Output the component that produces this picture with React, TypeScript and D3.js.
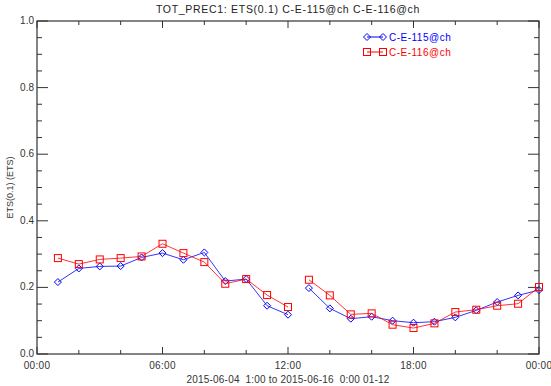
import * as d3 from "d3";

// lead hours of the two 12-hour runs
const hours = [1, 2, 3, 4, 5, 6, 7, 8, 9, 10, 11, 12, 13, 14, 15, 16, 17, 18, 19, 20, 21, 22, 23, 24];
const runOf = [0, 0, 0, 0, 0, 0, 0, 0, 0, 0, 0, 0, 1, 1, 1, 1, 1, 1, 1, 1, 1, 1, 1, 1];

const ce115 = [
  0.216, 0.257, 0.263, 0.264, 0.29, 0.303, 0.283, 0.305, 0.219, 0.225, 0.145, 0.118,
  0.198, 0.137, 0.106, 0.112, 0.1, 0.094, 0.097, 0.11, 0.131, 0.156, 0.176, 0.192,
];
const ce116 = [
  0.288, 0.27, 0.284, 0.288, 0.293, 0.331, 0.303, 0.276, 0.211, 0.225, 0.177, 0.141,
  0.223, 0.176, 0.119, 0.122, 0.088, 0.078, 0.092, 0.126, 0.133, 0.145, 0.151, 0.201,
];

const xTickLabels = ["00:00", "06:00", "12:00", "18:00", "00:00"];
const yTicks = [0, 0.2, 0.4, 0.6, 0.8, 1.0];

const W = 551;
const H = 386;
const margin = { top: 21, right: 12, bottom: 32, left: 37 };
const FONT = "'Liberation Sans', Arial, sans-serif";
const AXIS = "#333";

export default function App() {
  const iw = W - margin.left - margin.right;
  const ih = H - margin.top - margin.bottom;

  const x = d3.scaleLinear().domain([0, 24]).range([0, iw]);
  const y = d3.scaleLinear().domain([0, 1]).range([ih, 0]);

  const majorX = d3.range(0, 25, 6);
  const minorX = d3.range(0, 25, 2).filter((h) => h % 6 !== 0);
  const minorY = d3.range(0, 1.0001, 0.05).filter((v) => Math.round(v * 100) % 20 !== 0);

  const xMaj = 7;
  const xMin = 4;
  const yMaj = 11;
  const yMin = 5;

  const series = [
    { name: "C-E-115@ch", values: ce115, color: "#0000ff", marker: "diamond" },
    { name: "C-E-116@ch", values: ce116, color: "#ff0000", marker: "square" },
  ];

  // the two runs are drawn as separate pieces
  const runs = [0, 1].map((r) => hours.map((_, i) => i).filter((i) => runOf[i] === r));

  const drawMarker = (kind: string, cx: number, cy: number, color: string, key: string) =>
    kind === "diamond" ? (
      <path
        key={key}
        d={`M${cx},${cy - 3.5}L${cx + 3.5},${cy}L${cx},${cy + 3.5}L${cx - 3.5},${cy}Z`}
        fill="none"
        stroke={color}
        strokeWidth={1}
      />
    ) : (
      <rect key={key} x={cx - 3.5} y={cy - 3.5} width={7} height={7} fill="none" stroke={color} strokeWidth={1} />
    );

  return (
    <svg width={W} height={H} style={{ position: "absolute", left: 0, top: 0, background: "#fff" }} fontFamily={FONT}>
      <text x={margin.left + iw / 2} y={13} textAnchor="middle" fontSize={10.5} fill="#222" letterSpacing={0.7}>
        TOT_PREC1: ETS(0.1) C-E-115@ch C-E-116@ch
      </text>
      <g transform={`translate(${margin.left},${margin.top})`}>
        <rect x={0} y={0} width={iw} height={ih} fill="none" stroke={AXIS} strokeWidth={1.2} />
        {majorX.map((h) => (
          <g key={`mx${h}`} stroke={AXIS}>
            <line x1={x(h)} x2={x(h)} y1={ih} y2={ih - xMaj} />
            <line x1={x(h)} x2={x(h)} y1={0} y2={xMaj} />
          </g>
        ))}
        {minorX.map((h) => (
          <g key={`nx${h}`} stroke={AXIS}>
            <line x1={x(h)} x2={x(h)} y1={ih} y2={ih - xMin} />
            <line x1={x(h)} x2={x(h)} y1={0} y2={xMin} />
          </g>
        ))}
        {yTicks.map((v) => (
          <g key={`my${v}`} stroke={AXIS}>
            <line x1={0} x2={yMaj} y1={y(v)} y2={y(v)} />
            <line x1={iw} x2={iw - yMaj} y1={y(v)} y2={y(v)} />
          </g>
        ))}
        {minorY.map((v) => (
          <g key={`ny${v}`} stroke={AXIS}>
            <line x1={0} x2={yMin} y1={y(v)} y2={y(v)} />
            <line x1={iw} x2={iw - yMin} y1={y(v)} y2={y(v)} />
          </g>
        ))}
        {yTicks.map((v) => (
          <text key={`yl${v}`} x={-3} y={y(v) + 3} textAnchor="end" fontSize={10} fill="#333">
            {v.toFixed(1)}
          </text>
        ))}
        {majorX.map((h, i) => (
          <text key={`xl${h}`} x={x(h)} y={ih + 15} textAnchor="middle" fontSize={10} fill="#333" letterSpacing={0.3}>
            {xTickLabels[i]}
          </text>
        ))}

        {series.map((s) => (
          <g key={s.name}>
            {runs.map((idx, r) => (
              <path
                key={r}
                d={d3
                  .line<number>()
                  .x((i) => x(hours[i]))
                  .y((i) => y(s.values[i]))(idx) as string}
                fill="none"
                stroke={s.color}
                strokeWidth={1}
                strokeOpacity={0.8}
              />
            ))}
            {hours.map((h, i) => drawMarker(s.marker, x(h), y(s.values[i]), s.color, `${s.name}${i}`))}
          </g>
        ))}
      </g>

      {series.map((s, i) => {
        const ly = 37 + i * 15;
        return (
          <g key={`lg${s.name}`}>
            <line x1={367} x2={383} y1={ly} y2={ly} stroke={s.color} strokeWidth={1} />
            {drawMarker(s.marker, 367, ly, s.color, "a")}
            {drawMarker(s.marker, 383, ly, s.color, "b")}
            <text x={389} y={ly + 3.5} fontSize={10} fill={s.color} letterSpacing={0.5}>
              {s.name}
            </text>
          </g>
        );
      })}

      <text
        transform={`translate(13,${margin.top + ih / 2}) rotate(-90)`}
        textAnchor="middle"
        fontSize={9}
        fill="#333"
      >
        ETS(0.1) (ETS)
      </text>
      <text
        x={margin.left + iw / 2}
        y={383}
        textAnchor="middle"
        fontSize={10}
        fill="#333"
        letterSpacing={0.2}
        style={{ whiteSpace: "pre" }}
      >
        2015-06-04  1:00 to 2015-06-16  0:00 01-12
      </text>
    </svg>
  );
}
